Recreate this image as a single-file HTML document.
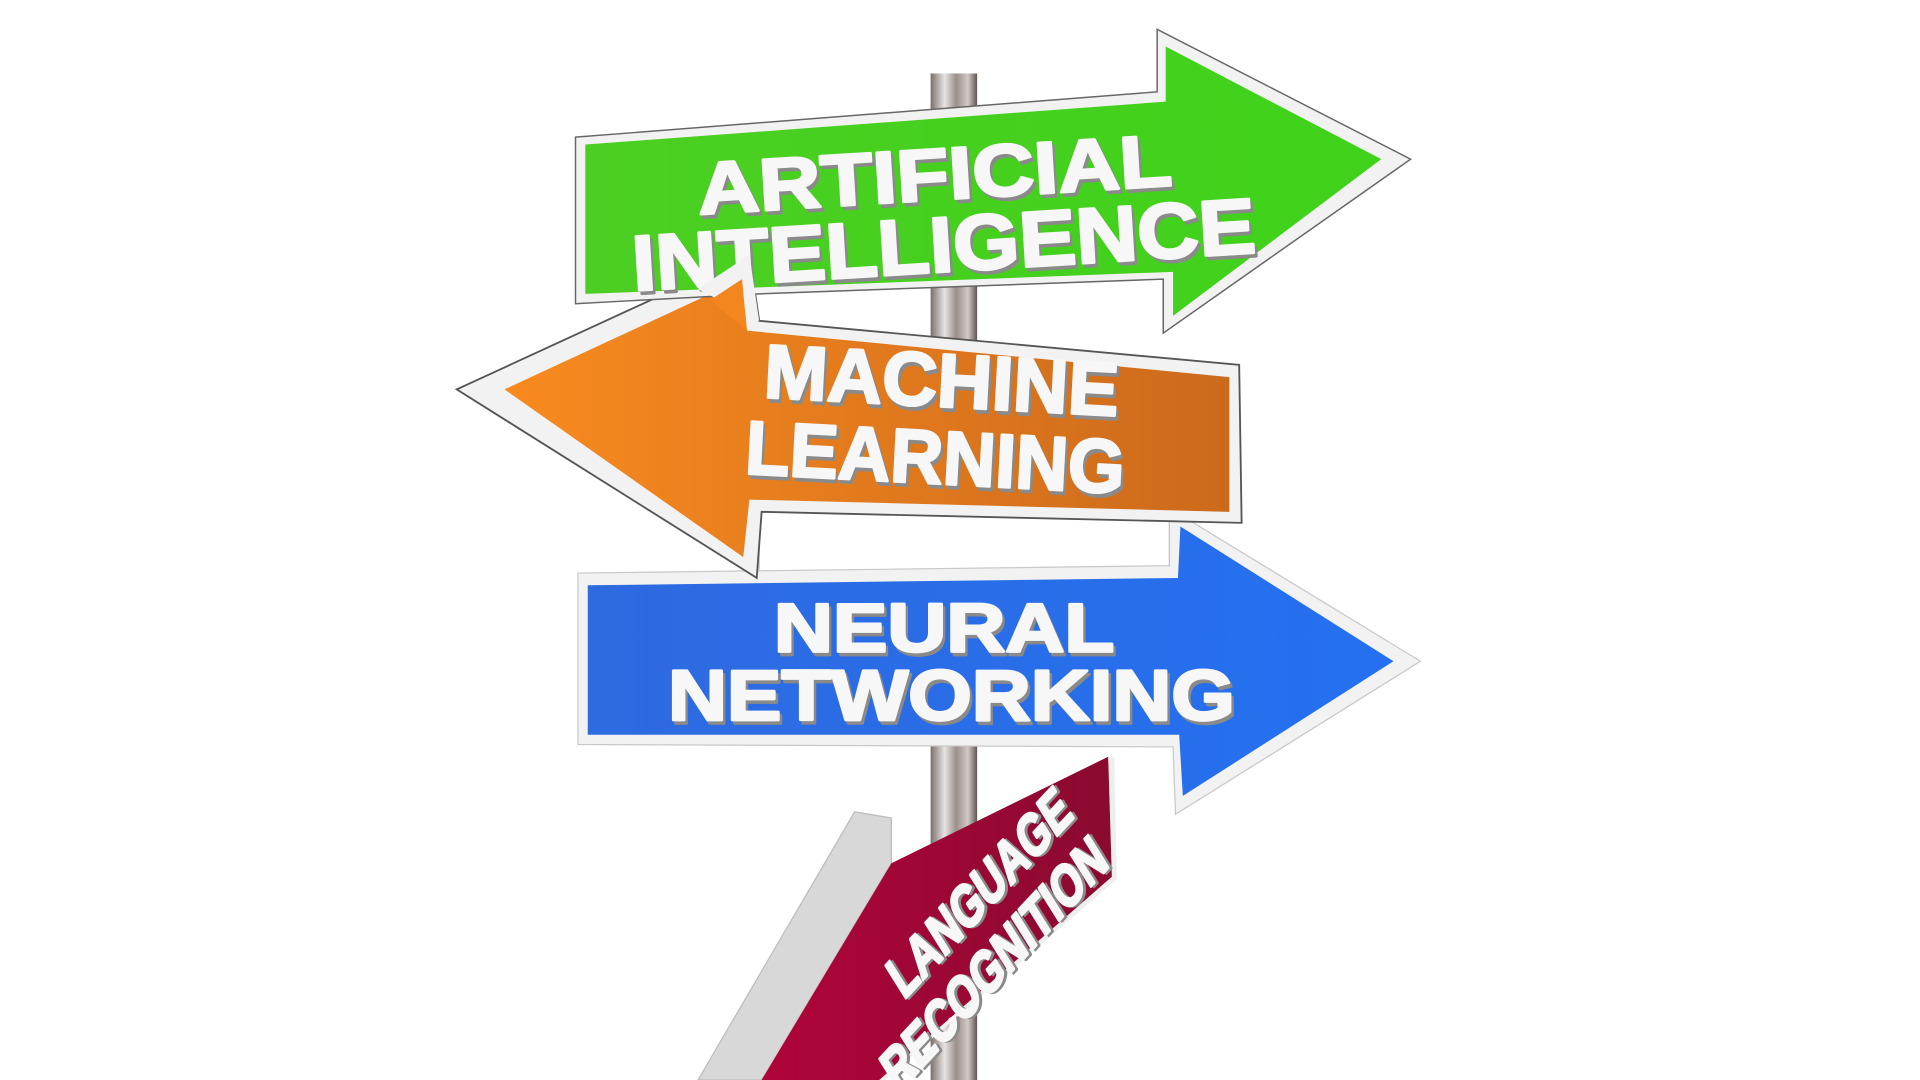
<!DOCTYPE html>
<html><head><meta charset="utf-8"><style>
html,body{margin:0;padding:0;background:#fff;width:1920px;height:1080px;overflow:hidden}
svg{display:block}
text{font-family:"Liberation Sans",Arial,sans-serif;font-weight:bold;fill:#f7f7f7;text-anchor:middle;stroke:#f7f7f7;stroke-width:2.2;stroke-linejoin:round}
.sh{fill:#8a8a8a;stroke:#8a8a8a}
</style></head><body>
<svg width="1920" height="1080" viewBox="0 0 1568 882" preserveAspectRatio="none">
<defs>
<linearGradient id="pole" x1="0" x2="1" y1="0" y2="0">
<stop offset="0" stop-color="#7a6f6a"/><stop offset="0.3" stop-color="#e8e4e2"/><stop offset="0.55" stop-color="#9b8f8a"/><stop offset="0.8" stop-color="#d0cac6"/><stop offset="1" stop-color="#5f5550"/></linearGradient>
<linearGradient id="gr" x1="0" x2="1"><stop offset="0" stop-color="#4ccf22"/><stop offset="1" stop-color="#3fd21a"/></linearGradient>
<linearGradient id="or" x1="0" x2="1"><stop offset="0" stop-color="#f88a1e"/><stop offset="1" stop-color="#cc6a1c"/></linearGradient>
<linearGradient id="bl" x1="0" x2="1"><stop offset="0" stop-color="#2e6ae0"/><stop offset="1" stop-color="#2470f0"/></linearGradient>
<linearGradient id="rd" x1="0" x2="1"><stop offset="0" stop-color="#b0043a"/><stop offset="1" stop-color="#8a0a30"/></linearGradient>
</defs>
<rect x="760" y="60" width="38" height="822" fill="url(#pole)"/>
<!-- red -->
<polygon points="570,882 698,663 728,668 728,705 622,882" fill="#d8d8d8" stroke="#bbb"/>
<polygon points="622,882 728,705 905,618 910,718 722,882" fill="url(#rd)"/>
<polygon points="905,618 910,618 912,718 722,882 718,882 908,716" fill="#eee"/>
<g transform="translate(808,742) rotate(-47) skewX(-15)"><text class="sh" x="2" y="2" font-size="44" textLength="205" lengthAdjust="spacingAndGlyphs">LANGUAGE</text><text x="0" y="0" font-size="44" textLength="205" lengthAdjust="spacingAndGlyphs">LANGUAGE</text></g>
<g transform="translate(820,800) rotate(-47) skewX(-15)"><text class="sh" x="2" y="2" font-size="44" textLength="255" lengthAdjust="spacingAndGlyphs">RECOGNITION</text><text x="0" y="0" font-size="44" textLength="255" lengthAdjust="spacingAndGlyphs">RECOGNITION</text></g>
<!-- blue -->
<polygon points="620,415 955,418 955,468 620,468" fill="#fff" stroke="#ccc"/>
<polygon points="472,468 955,462 955,415 1160,540 960,665 958,610 472,608" fill="#f2f2f2" stroke="#c8c8c8"/>
<polygon points="480,478 962,472 964,430 1138,540 966,650 963,600 480,600" fill="url(#bl)"/>
<text class="sh" x="773" y="535" font-size="56" textLength="278" lengthAdjust="spacingAndGlyphs">NEURAL</text>
<text x="771" y="532" font-size="56" textLength="278" lengthAdjust="spacingAndGlyphs">NEURAL</text>
<text class="sh" x="779" y="591" font-size="58" textLength="463" lengthAdjust="spacingAndGlyphs">NETWORKING</text>
<text x="777" y="588" font-size="58" textLength="463" lengthAdjust="spacingAndGlyphs">NETWORKING</text>
<!-- orange -->
<polygon points="373,318 612,208 620,262 1012,298 1014,427 622,418 618,472" fill="#f2f2f2" stroke="#555" stroke-width="1.5"/>
<polygon points="412,318 606,228 610,270 1004,308 1004,418 612,408 607,455" fill="url(#or)"/>
<g transform="rotate(3 768 330)">
<text class="sh" x="770" y="335" font-size="62" textLength="290" lengthAdjust="spacingAndGlyphs">MACHINE</text>
<text x="768" y="332" font-size="62" textLength="290" lengthAdjust="spacingAndGlyphs">MACHINE</text>
<text class="sh" x="768" y="398" font-size="62" textLength="310" lengthAdjust="spacingAndGlyphs">LEARNING</text>
<text x="766" y="395" font-size="62" textLength="310" lengthAdjust="spacingAndGlyphs">LEARNING</text>
</g>
<!-- green -->
<polygon points="470,112 945,75 945,24 1152,130 950,272 950,228 620,240 470,248" fill="#f2f2f2" stroke="#666" stroke-width="1.2"/>
<polygon points="478,118 952,83 952,38 1128,130 958,258 958,222 478,240" fill="url(#gr)"/>
<g transform="rotate(-3.5 768 190)">
<text class="sh" x="768" y="166" font-size="60" textLength="388" lengthAdjust="spacingAndGlyphs">ARTIFICIAL</text>
<text x="766" y="163" font-size="60" textLength="388" lengthAdjust="spacingAndGlyphs">ARTIFICIAL</text>
<text class="sh" x="772" y="225" font-size="64" textLength="510" lengthAdjust="spacingAndGlyphs">INTELLIGENCE</text>
<text x="770" y="222" font-size="64" textLength="510" lengthAdjust="spacingAndGlyphs">INTELLIGENCE</text>
</g>
<polygon points="612,208 620,262 570,236" fill="#f2f2f2"/>
<polygon points="606,228 610,270 580,245" fill="#f4861f"/>
</svg>
</body></html>
